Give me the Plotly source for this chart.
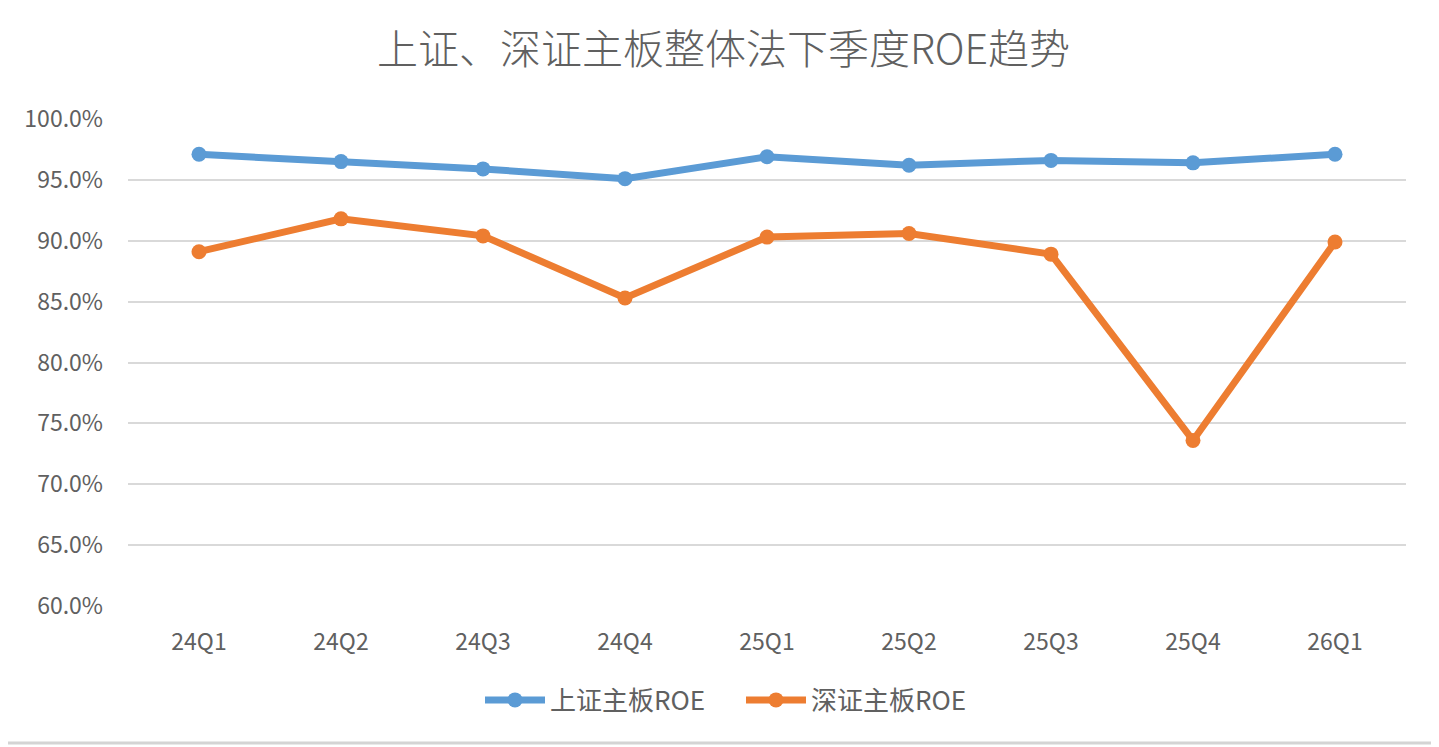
import plotly.graph_objects as go

# quarterly ROE (whole-method)
quarters = ['24Q1', '24Q2', '24Q3', '24Q4', '25Q1', '25Q2', '25Q3', '25Q4', '26Q1']
sh_main_roe = [0.971, 0.965, 0.959, 0.951, 0.969, 0.962, 0.966, 0.964, 0.971]
sz_main_roe = [0.891, 0.918, 0.904, 0.853, 0.903, 0.906, 0.889, 0.736, 0.899]
y_ticks = [0.60, 0.65, 0.70, 0.75, 0.80, 0.85, 0.90, 0.95, 1.00]

FONT = 'Noto Sans CJK SC, Noto Sans, sans-serif'
GREY = '#606060'

# page has an 8px body margin, so the figure is sized to end at the window edge
W, H = 1431, 739
L, R, T, B = 120, 33, 111, 141
pw, ph = W - L - R, H - T - B

fig = go.Figure()
fig.add_trace(go.Scatter(
    x=quarters, y=sh_main_roe, name='上证主板ROE', mode='lines+markers',
    line={'color': '#5B9BD5', 'width': 7},
    marker={'color': '#5B9BD5', 'size': 15},
))
fig.add_trace(go.Scatter(
    x=quarters, y=sz_main_roe, name='深证主板ROE', mode='lines+markers',
    line={'color': '#ED7D31', 'width': 7},
    marker={'color': '#ED7D31', 'size': 15},
))

fig.update_layout(
    title={'text': '上证、深证主板整体法下季度ROE趋势', 'x': 0.5, 'xanchor': 'center',
           'y': 1 - 42 / H, 'yanchor': 'middle',
           'font': {'size': 41, 'color': GREY, 'family': FONT, 'weight': 300}},
    width=W,
    height=H,
    autosize=False,
    paper_bgcolor='white',
    plot_bgcolor='white',
    font={'family': FONT, 'color': GREY, 'size': 23},
    margin={'l': L, 'r': R, 't': T, 'b': B},
    showlegend=True,
    legend={'orientation': 'h', 'x': (472 - L) / pw, 'xanchor': 'left', 'y': -94 / ph, 'yanchor': 'middle',
            'font': {'size': 26, 'color': GREY}, 'itemwidth': 60, 'entrywidth': 186},
    xaxis={'range': [-0.5, 8.5], 'showgrid': False, 'zeroline': False, 'showline': False,
           'ticks': '', 'ticklabelstandoff': 20, 'tickfont': {'size': 23, 'color': GREY}},
    yaxis={'range': [0.60, 1.00], 'tickvals': y_ticks, 'tickformat': '.1%',
           'showgrid': True, 'gridcolor': '#D9D9D9', 'gridwidth': 2, 'zeroline': False,
           'showline': False, 'ticks': '', 'ticklabelstandoff': 24,
           'tickfont': {'size': 23, 'color': GREY}},
    shapes=[
        {'type': 'line', 'xref': 'paper', 'yref': 'paper',
         'x0': (1425 - L) / pw, 'x1': (1425 - L) / pw, 'y0': -(735 - T - ph) / ph, 'y1': 1 + T / ph,
         'line': {'color': '#D4D4D4', 'width': 3}},
        {'type': 'line', 'xref': 'paper', 'yref': 'paper',
         'x0': -L / pw, 'x1': (1425 - L) / pw, 'y0': -(735 - T - ph) / ph, 'y1': -(735 - T - ph) / ph,
         'line': {'color': '#D4D4D4', 'width': 3}},
    ],
)

fig.write_html('out.html')
